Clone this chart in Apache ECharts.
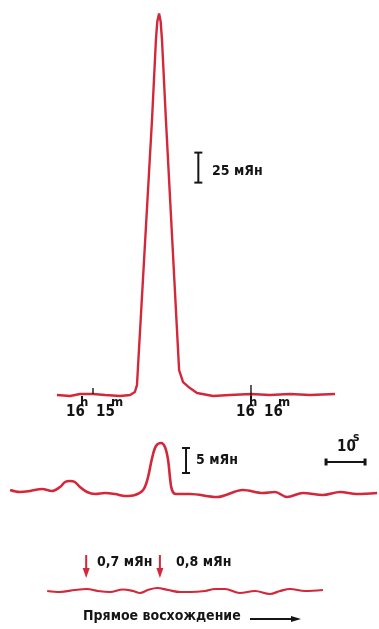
<!DOCTYPE html>
<html>
<head>
<meta charset="utf-8">
<script src="https://cdn.jsdelivr.net/npm/echarts@6/dist/echarts.min.js"></script>
<style>
  html, body { margin: 0; padding: 0; background: #fff; }
  #chart { width: 379px; height: 629px; }
</style>
</head>
<body>
<div id="chart"></div>
<script>
// верхняя запись (сек от 16h15m, мЯн)
const topTime = [-13.7, -8.7, -4.9, 0, 4.6, 10.3, 14.1, 15.9, 16.7, 22.4, 23.9, 24.4, 25.1, 25.7, 26.2, 27.7, 32.7, 34.2, 36.8, 39.5, 45.6, 52.0, 60, 67.2, 74.8, 82.4, 91.9]
const topFlux = [0, -0.8, 0.8, 0.8, 0, -0.8, 0, 2.5, 8.3, 229, 296, 311, 318, 311, 296, 229, 20.8, 10.8, 5.8, 1.7, -0.8, 0, 0.8, 0, 0.8, 0, 0.8]
// средняя запись
const midTime = [2.6, 5.1, 7.7, 10.8, 13.3, 15.4, 16.7, 17.9, 19.2, 20.5, 22.3, 24.4, 26.9, 29.5, 32.1, 34.6, 36.7, 37.9, 39.0, 40.0, 41.3, 42.3, 43.1, 43.6, 44.1, 45.1, 48.7, 55.6, 62.3, 67.4, 70.5, 73.6, 77.7, 82.8, 87.2, 91.5, 96.7]
const midFlux = [0.8, 0.4, 0.6, 1.0, 0.6, 1.4, 2.4, 2.6, 2.4, 1.4, 0.4, 0, 0.2, 0, -0.4, -0.2, 0.8, 3.2, 7.2, 9.6, 10.2, 9.4, 6.8, 3.2, 0.8, 0, 0, -0.6, 0.8, 0.2, 0.4, -0.6, 0.2, -0.2, 0.4, 0, 0.2]
// нижняя запись
const lowTime = [12.1, 15.4, 19.2, 22.3, 25.1, 28.2, 31.5, 34.1, 35.9, 37.9, 40.3, 43.1, 46.2, 48.7, 52.6, 55.1, 57.7, 61.5, 65.4, 69.2, 71.8, 74.4, 78.2, 82.8]
const lowFlux = [0, -0.2, 0.2, 0.4, 0, -0.2, 0.3, 0, -0.4, 0.2, 0.6, 0.2, -0.2, -0.2, 0, 0.4, 0.4, -0.4, 0, -0.6, 0, 0.4, 0, 0.2]
// отметки
const topTicks = [[0, 0.8, 5.8], [60, -0.8, 8.3]]
const topBar = [40, 177, 202]        // 25 мЯн
const midBar = [47.7, 4.2, 9.2]      // 5 мЯн
const timeBar = [83.6, 93.6, 6.4]    // 10 s
const sourceArrows = [22.1, 41.0]
const labels = ['25 мЯн', '5 мЯн', '0,7 мЯн', '0,8 мЯн', 'Прямое восхождение']

const red = '#d3283a'
const ink = '#151515'
const font = "'Liberation Sans Narrow', 'DejaVu Sans Condensed', 'Roboto', sans-serif"

const zip = (xs, ys) => xs.map((x, i) => [x, ys[i]])

const chart = echarts.init(document.getElementById('chart'))

const hiddenAxis = (min, max, gridIndex) => ({
  type: 'value', min: min, max: max, gridIndex: gridIndex, show: false,
  splitLine: { show: false }
})

const plain = (data, xi, color, width) => ({
  type: 'line', xAxisIndex: xi, yAxisIndex: xi, data: data,
  symbol: 'none', silent: true, animation: false,
  lineStyle: { color: color, width: width }, itemStyle: { color: color }
})

const series = [
  plain(zip(topTime, topFlux), 0, red, 2.4),
  Object.assign(plain(zip(midTime, midFlux), 1, red, 2.6), { smooth: 0.35 }),
  Object.assign(plain(zip(lowTime, lowFlux), 2, red, 2.2), { smooth: 0.35 })
]

topTicks.forEach(t => series.push(plain([[t[0], t[1]], [t[0], t[2]]], 0, ink, 1.4)))

const ibeam = (bar, xi) => Object.assign(plain([[bar[0], bar[1]], [bar[0], bar[2]]], xi, ink, 2), {
  symbol: 'rect', symbolSize: [8, 2], showSymbol: true
})
series.push(ibeam(topBar, 0))
series.push(ibeam(midBar, 1))
series.push(Object.assign(plain([[timeBar[0], timeBar[2]], [timeBar[1], timeBar[2]]], 1, ink, 2), {
  symbol: 'rect', symbolSize: [3, 7], showSymbol: true
}))

sourceArrows.forEach(x => {
  series.push(plain([
    { value: [x, 7.2] },
    { value: [x, 3.6], symbol: 'triangle', symbolRotate: 180, symbolSize: [7, 10] }
  ], 2, red, 2))
})

// стрелка направления
series.push(plain([
  { value: [64.1, -5.6] },
  { value: [75.9, -5.6], symbol: 'triangle', symbolRotate: -90, symbolSize: [6, 10] }
], 2, ink, 2))

const txt = (x, y, text, size) => ({
  type: 'text', left: x, top: y, silent: true,
  style: { text: text, fill: ink, font: 'bold ' + size + 'px ' + font }
})

chart.setOption({
  backgroundColor: '#fff',
  animation: false,
  grid: [
    { left: 40.33, right: 22.67, top: 5, height: 414 },
    { left: 0, right: 0, top: 434, height: 75 },
    { left: 0, right: 0, top: 551, height: 75 }
  ],
  xAxis: [hiddenAxis(-20, 100, 0), hiddenAxis(0, 97.18, 1), hiddenAxis(0, 97.18, 2)],
  yAxis: [hiddenAxis(-20, 325, 0), hiddenAxis(-3, 12, 1), hiddenAxis(-7, 8, 2)],
  series: series,
  graphic: [
    txt(66, 405, '16', 15), txt(80, 396, 'h', 13),
    txt(96, 405, '15', 15), txt(111, 396, 'm', 13),
    txt(236, 405, '16', 15), txt(249, 396, 'h', 13),
    txt(264, 405, '16', 15), txt(278, 396, 'm', 13),
    txt(212, 164, labels[0], 14),
    txt(196, 453, labels[1], 14),
    txt(337, 440, '10', 15), txt(353, 432, 's', 12),
    txt(97, 555, labels[2], 14),
    txt(176, 555, labels[3], 14),
    txt(83, 609, labels[4], 14)
  ]
})
</script>
</body>
</html>
